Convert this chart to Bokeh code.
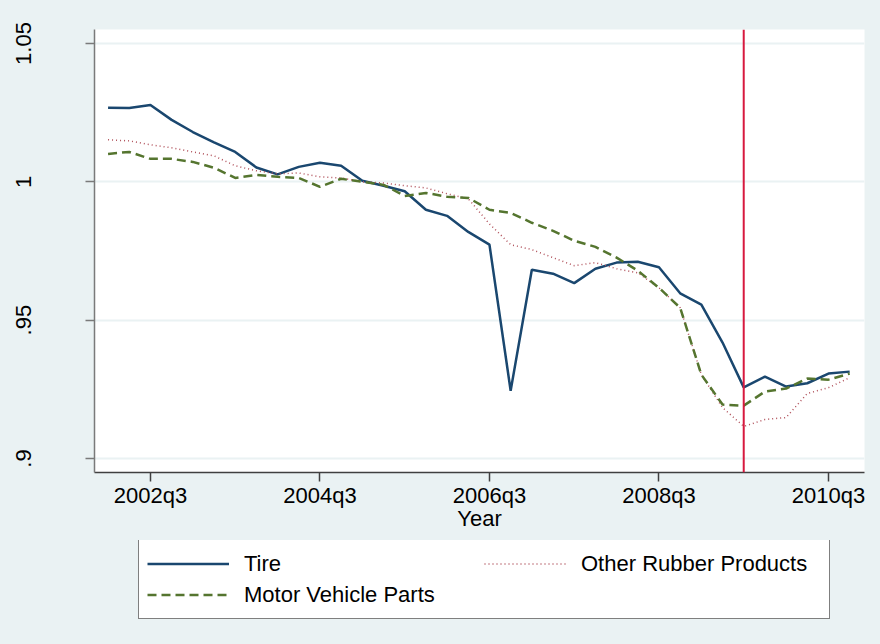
from bokeh.plotting import figure
from bokeh.models import (Range1d, FixedTicker, Span, Legend, LegendItem)
from bokeh.layouts import column
from bokeh.embed import file_html
from bokeh.resources import INLINE

quarters = [f"{y}q{q}" for y in range(2002, 2011) for q in range(1, 5)]

tire = [1.0268, 1.0267, 1.0278, 1.0224, 1.0180, 1.0143, 1.0108, 1.0052, 1.0027,
        1.0054, 1.0069, 1.0058, 1.0004, 0.9986, 0.9966, 0.9899, 0.9877, 0.9819,
        0.9773, 0.9245, 0.9682, 0.9668, 0.9634, 0.9686, 0.9708, 0.9711, 0.9691,
        0.9597, 0.9556, 0.9419, 0.9257, 0.9296, 0.9260, 0.9272, 0.9307, 0.9314]

other_rubber = [1.0152, 1.0148, 1.0134, 1.0123, 1.0108, 1.0094, 1.0058, 1.0040,
                1.0029, 1.0032, 1.0018, 1.0014, 1.0000, 0.9996, 0.9986, 0.9978,
                0.9957, 0.9939, 0.9848, 0.9773, 0.9755, 0.9726, 0.9697, 0.9708,
                0.9686, 0.9671, 0.9617, 0.9545, 0.9303, 0.9184, 0.9116, 0.9141,
                0.9148, 0.9235, 0.9256, 0.9292]

motor_vehicle = [1.0101, 1.0108, 1.0083, 1.0083, 1.0072, 1.0051, 1.0014, 1.0025,
                 1.0018, 1.0014, 0.9982, 1.0011, 1.0000, 0.9989, 0.9949, 0.9960,
                 0.9946, 0.9942, 0.9899, 0.9888, 0.9852, 0.9823, 0.9787, 0.9765,
                 0.9726, 0.9679, 0.9617, 0.9545, 0.9303, 0.9195, 0.9191, 0.9242,
                 0.9253, 0.9289, 0.9285, 0.9307]

x_tick_labels = ["2002q3", "2004q3", "2006q3", "2008q3", "2010q3"]
y_ticks = [0.9, 0.95, 1.0, 1.05]
y_tick_labels = [".9", ".95", "1", "1.05"]
event_quarter = "2009q3"
series_names = ["Tire", "Other Rubber Products", "Motor Vehicle Parts"]

BG = "#EAF2F3"
FONT = "Liberation Sans"
styles = [dict(line_color="#1A476F", line_width=2.5),
          dict(line_color="#B0505A", line_width=1.5, line_dash="1 3"),
          dict(line_color="#55752F", line_width=2.5, line_dash="9 5")]
series = [tire, other_rubber, motor_vehicle]

x = list(range(len(quarters)))

p = figure(width=880, height=540, output_backend="svg", toolbar_location=None,
           x_range=Range1d(-0.64, 35.7), y_range=Range1d(0.89494, 1.05506),
           min_border_left=94, min_border_right=16, min_border_top=29,
           min_border_bottom=68)
p.background_fill_color = "white"
p.border_fill_color = BG
p.outline_line_color = None

for ys, st in zip(series, styles):
    p.line(x, ys, **st)

p.add_layout(Span(location=quarters.index(event_quarter), dimension="height",
                  line_color="#D7193F", line_width=2))

xt = [quarters.index(l) for l in x_tick_labels]
p.xaxis.ticker = FixedTicker(ticks=xt)
p.xaxis.major_label_overrides = {t: l for t, l in zip(xt, x_tick_labels)}
p.xaxis.axis_label = "Year"
p.yaxis.ticker = FixedTicker(ticks=y_ticks)
p.yaxis.major_label_overrides = {t: l for t, l in zip(y_ticks, y_tick_labels)}
p.yaxis.major_label_orientation = "vertical"

for ax in (p.xaxis[0], p.yaxis[0]):
    ax.major_label_text_font = FONT
    ax.major_label_text_font_size = "22px"
    ax.major_label_text_color = "black"
    ax.axis_label_text_font = FONT
    ax.axis_label_text_font_size = "22px"
    ax.axis_label_text_font_style = "normal"
    ax.axis_label_text_color = "black"
    ax.major_tick_in = 0
    ax.major_tick_out = 9
    ax.minor_tick_line_color = None
    ax.axis_line_width = 1.5
    ax.major_tick_line_width = 1.5

p.xaxis.axis_line_color = "#404040"
p.xaxis.major_tick_line_color = "#404040"
p.xaxis.major_label_standoff = 1
p.xaxis.axis_label_standoff = -5
p.yaxis.axis_line_color = "#7A7A7A"
p.yaxis.major_tick_line_color = "#7A7A7A"
p.yaxis.major_label_standoff = 54

p.xgrid.grid_line_color = None
p.ygrid.grid_line_color = BG
p.ygrid.grid_line_width = 2

# Legend panel (separate strip beneath the chart)
q = figure(width=880, height=104, output_backend="svg", toolbar_location=None,
           x_range=Range1d(-0.64, 35.7), y_range=Range1d(100, 101),
           x_axis_type=None, y_axis_type=None, min_border=0)
q.background_fill_color = BG
q.border_fill_color = BG
q.outline_line_color = None
q.grid.grid_line_color = None
leg_r = [q.line(x, ys, **st) for ys, st in zip(series, styles)]

order = [0, 2, 1]
legend = Legend(items=[LegendItem(label=series_names[i], renderers=[leg_r[i]])
                       for i in order],
                ncols=2, location=(44, 25))
legend.label_text_font = FONT
legend.label_text_font_size = "22px"
legend.label_text_color = "black"
legend.glyph_width = 82
legend.glyph_height = 31
legend.label_height = 31
legend.label_width = 240
legend.label_standoff = 15
legend.spacing = 0
legend.padding = 8
legend.margin = 0
legend.border_line_color = "black"
legend.border_line_width = 1
legend.background_fill_color = "white"
legend.background_fill_alpha = 1
q.add_layout(legend, "center")

layout = column(p, q, spacing=0, styles={"background-color": BG})
open("out.html", "w").write(file_html(layout, INLINE))
